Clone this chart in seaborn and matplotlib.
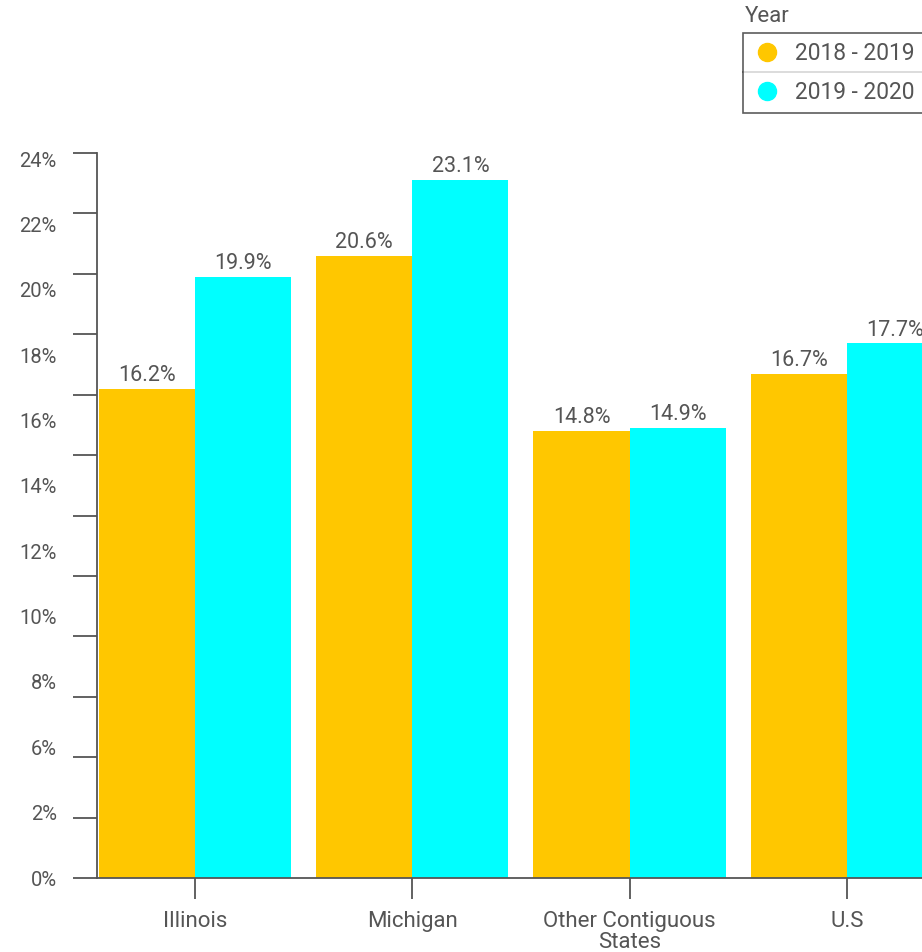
import numpy as np
import pandas as pd
import seaborn as sns
import matplotlib.pyplot as plt
from matplotlib.lines import Line2D

# data
regions = ["Illinois", "Michigan", "Other Contiguous\nStates", "U.S"]
years = ["2018 - 2019", "2019 - 2020"]
vals_2018 = [16.2, 20.6, 14.8, 16.7]
vals_2019 = [19.9, 23.1, 14.9, 17.7]
ytick_labels = ["0%", "2%", "6%", "8%", "10%", "12%", "14%", "16%", "18%", "20%", "22%", "24%"]

colors = ["#FFC700", "#00FFFF"]
txt = "#555555"

df = pd.DataFrame({
    "region": regions * 2,
    "year": [years[0]] * 4 + [years[1]] * 4,
    "value": vals_2018 + vals_2019,
})

sns.set_style("white")
plt.rcParams["font.family"] = ["Roboto", "DejaVu Sans"]

fig = plt.figure(figsize=(9.22, 9.52), dpi=100)
ax = fig.add_axes([97 / 922, 1 - 878 / 952, 1 - 97 / 922, (878 - 153) / 952])

sns.barplot(data=df, x="region", y="value", hue="year", palette=colors,
            width=0.885, gap=0, linewidth=0, saturation=1, ax=ax, legend=False)

for c in ax.containers:
    ax.bar_label(c, labels=[f"{v:.1f}%" for v in c.datavalues], padding=2,
                 fontsize=15.5, color=txt)

ax.set_ylim(0, 24)
ax.set_xlim(-0.45, 3.345)
ax.set_xlabel("")
ax.set_ylabel("")

# labels spread evenly as in the source (major), tick marks every 2% (minor)
ax.yaxis.remove_overlapping_locs = False
ax.set_yticks(np.linspace(0, 23.8, len(ytick_labels)))
ax.set_yticklabels(ytick_labels)
ax.set_yticks(np.arange(0, 25, 2), minor=True)
ax.tick_params(axis="y", which="minor", left=True, length=17, width=1.3, color=txt)
ax.tick_params(axis="y", which="major", left=False, length=0, pad=29,
               labelsize=14.5, labelcolor=txt)
ax.tick_params(axis="x", length=15, width=1.3, color=txt, pad=9,
               labelsize=16, labelcolor=txt, bottom=True)
for lab in ax.get_xticklabels():
    lab.set_linespacing(1.0)

for s in ["top", "right"]:
    ax.spines[s].set_visible(False)
for s in ["left", "bottom"]:
    ax.spines[s].set_color(txt)
    ax.spines[s].set_linewidth(1.3)

# legend
handles = [Line2D([], [], marker="o", linestyle="", markersize=13,
                  markerfacecolor=c, markeredgecolor=c) for c in colors]
leg = fig.legend(handles, years, loc="upper left", bbox_to_anchor=(743 / 922, 1 - 33 / 952),
                 frameon=True, fancybox=False, fontsize=16.4, labelcolor=txt,
                 borderpad=0.4, labelspacing=0.7, handletextpad=0.6,
                 borderaxespad=0, handlelength=1.3)
leg.get_frame().set_edgecolor("#333333")
leg.get_frame().set_linewidth(1.2)
fig.text(745 / 922, 1 - 16 / 952, "Year", fontsize=16, color=txt, va="center")
fig.add_artist(Line2D([743 / 922, 1], [1 - 72 / 952, 1 - 72 / 952],
                      color="#333333", linewidth=1.2))

fig.savefig("out.png", dpi=100)
